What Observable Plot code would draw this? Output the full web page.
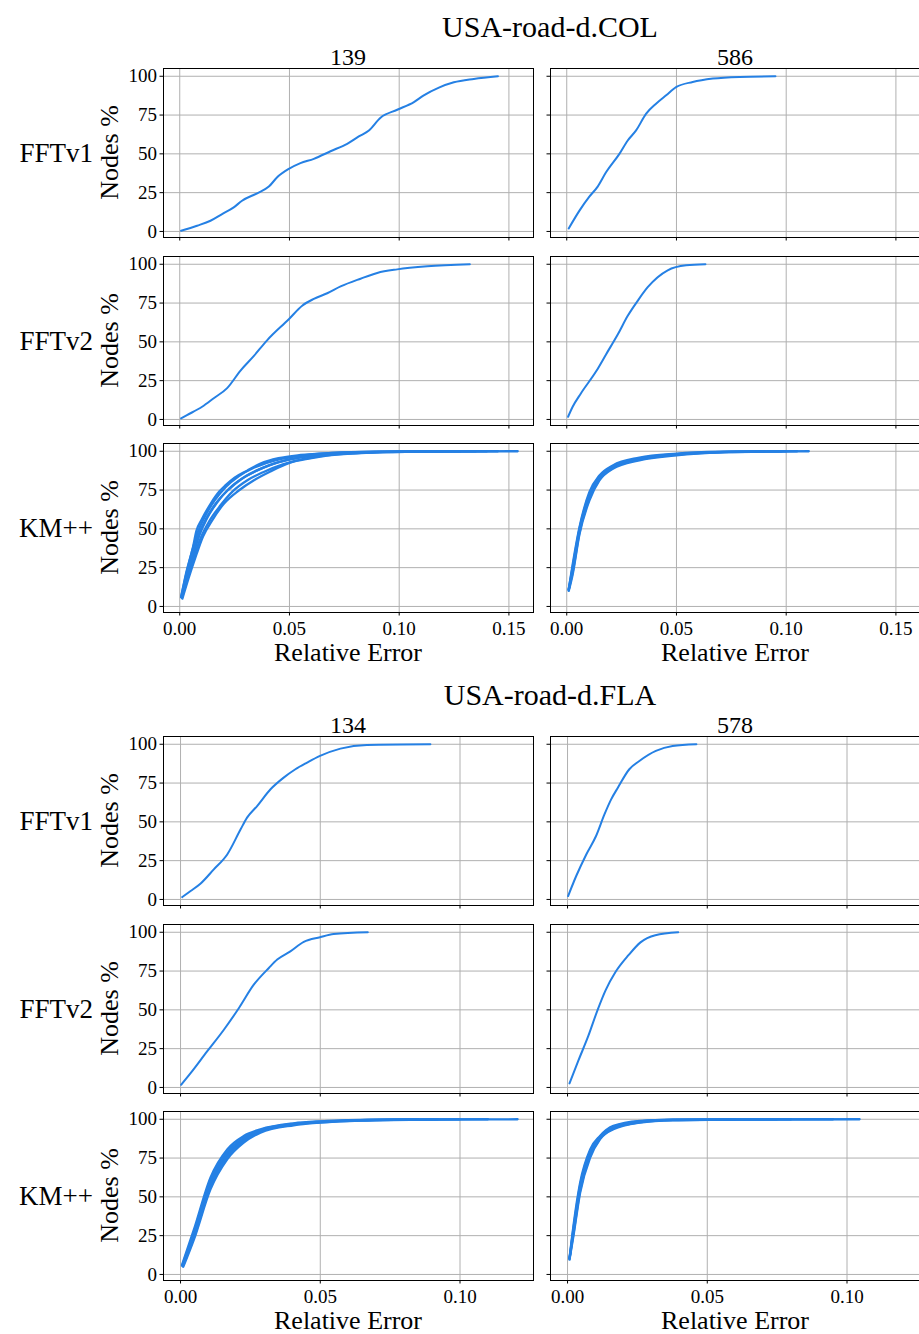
<!DOCTYPE html>
<html>
<head>
<meta charset="utf-8">
<script src="https://cdn.jsdelivr.net/npm/d3@7"></script>
<script src="https://cdn.jsdelivr.net/npm/@observablehq/plot@0.6"></script>
<style>
  html, body { margin: 0; padding: 0; background: #fff; overflow: hidden; }
  #root { position: relative; width: 919px; height: 1334px; overflow: hidden; background: #fff; }
  #root > svg.panel { position: absolute; }
  #overlay { position: absolute; left: 0; top: 0; pointer-events: none; }
  #overlay text { font-family: "Liberation Serif", "DejaVu Serif", serif; fill: #000; }
</style>
</head>
<body>
<div id="root"></div>
<script>
// ---------------- data ----------------
const groupTitles = ["USA-road-d.COL", "USA-road-d.FLA"];
const colLabelsCOL = ["139", "586"];
const colLabelsFLA = ["134", "578"];
const methods = ["FFTv1", "FFTv2", "KM++"];
const yTicks = [0, 25, 50, 75, 100];
const xTicksCOL = [0, 0.05, 0.10, 0.15];
const xTicksFLA = [0, 0.05, 0.10];

// [relative error, nodes %]
const COL_139_FFTv1 = [[0.0006,0.4],[0.0079,3.7],[0.014,6.9],[0.0193,11.2],[0.0246,15.5],[0.0284,19.8],[0.0353,24.6],[0.0406,28.9],[0.0444,34.9],[0.0497,40.3],[0.055,44],[0.0611,46.8],[0.0687,51.7],[0.0763,56.5],[0.0816,61.2],[0.0862,65.1],[0.0915,73.3],[0.0991,78.4],[0.1067,83.4],[0.1112,87.7],[0.1181,92.7],[0.1249,96.1],[0.134,98.3],[0.145,100]];
const COL_586_FFTv1 = [[0.0009,1.9],[0.0058,13.4],[0.0103,22.4],[0.0141,28.9],[0.0179,38.1],[0.024,50],[0.0278,58.6],[0.0316,65.1],[0.0362,75.9],[0.0407,82.3],[0.0453,87.7],[0.05,93.1],[0.0574,96.3],[0.0666,98.5],[0.0787,99.6],[0.0951,100]];
const COL_139_FFTv2 = [[0.0006,0.7],[0.0033,2.8],[0.0102,8.2],[0.0155,13.7],[0.0216,20.2],[0.0277,31.5],[0.0337,40.8],[0.0398,51],[0.0497,64.6],[0.0558,73.3],[0.0611,77.7],[0.0672,81.3],[0.0733,85.7],[0.0824,90.7],[0.09,94.4],[0.0991,96.7],[0.1128,98.7],[0.1322,100]];
const COL_586_FFTv2 = [[0.0006,1.7],[0.0027,8.2],[0.0065,16.9],[0.0134,31],[0.0179,41.9],[0.0233,54.9],[0.0278,66.8],[0.0324,76.6],[0.0369,85.2],[0.046,96.1],[0.0544,99.3],[0.0632,100]];

const COL_139_KM_r1 = [[0.0006,6],[0.003,22],[0.006,38],[0.0076,48.7],[0.010,56],[0.014,66],[0.018,74],[0.0208,78],[0.025,83],[0.0307,87.5],[0.0368,92],[0.045,95.5],[0.055,97.6],[0.07,99],[0.09,99.7],[0.12,100]];
const COL_139_KM_r2 = [[0.0012,5],[0.004,18],[0.0075,33],[0.0106,45],[0.015,56],[0.02,66],[0.0269,74.7],[0.034,81.5],[0.0413,87],[0.05,92.5],[0.06,95.5],[0.067,97.2],[0.08,98.7],[0.0976,99.5],[0.12,99.9],[0.154,100]];
const COL_139_KM_r3 = [[0.0008,6],[0.0035,20],[0.0065,35],[0.009,46],[0.0125,57],[0.017,67],[0.0225,76],[0.029,83],[0.0365,88.5],[0.045,93],[0.055,96],[0.068,98.2],[0.085,99.3],[0.105,99.8],[0.135,100]];
const COL_139_KM_r4 = [[0.001,5.5],[0.0038,19],[0.007,34],[0.0095,44],[0.0135,55],[0.0185,65],[0.024,74],[0.031,81.5],[0.038,86.5],[0.047,91.5],[0.057,95.2],[0.07,97.8],[0.088,99.2],[0.11,99.8],[0.145,100]];
const COL_139_KM_r5 = [[0.0007,6.5],[0.003,21],[0.0055,35],[0.008,47],[0.0115,58],[0.016,68.5],[0.021,77],[0.027,84],[0.034,89.5],[0.042,93.5],[0.052,96.5],[0.064,98.4],[0.08,99.4],[0.1,99.9],[0.128,100]];
const COL_139_KM_r6 = [[0.0009,5.8],[0.0032,20.5],[0.0062,36],[0.0085,46],[0.012,56.5],[0.0165,66.5],[0.022,75],[0.028,82],[0.035,87.5],[0.043,92],[0.053,95.6],[0.066,98],[0.083,99.3],[0.102,99.8],[0.14,100]];

const COL_586_KM_r1 = [[0.0009,11],[0.0027,27],[0.0058,51],[0.0103,73.6],[0.0149,84.4],[0.021,90.9],[0.0331,95.9],[0.05,98.5],[0.07,99.7],[0.09,100]];
const COL_586_KM_r2 = [[0.0009,10],[0.0027,20.6],[0.0058,46.5],[0.0103,68.2],[0.0149,81.2],[0.021,88.7],[0.0331,94.2],[0.05,97.4],[0.0711,99.3],[0.09,99.8],[0.1103,100]];
const COL_586_KM_r3 = [[0.0009,10.5],[0.0027,24],[0.0058,49],[0.0103,71],[0.0149,83],[0.021,89.8],[0.0331,95],[0.05,98],[0.07,99.5],[0.1,100]];
const COL_586_KM_r4 = [[0.0009,10.8],[0.0027,22],[0.0058,47.5],[0.0103,69.5],[0.0149,82],[0.021,89.2],[0.0331,94.6],[0.05,97.7],[0.072,99.4],[0.105,100]];
const COL_586_KM_r5 = [[0.0009,11.2],[0.0027,25.5],[0.0058,50],[0.0103,72.3],[0.0149,83.7],[0.021,90.3],[0.0331,95.4],[0.05,98.2],[0.075,99.7],[0.098,100]];

const FLA_134_FFTv1 = [[0.0006,1.5],[0.0036,5.4],[0.0072,10.3],[0.0119,19.4],[0.0167,29],[0.0215,45.2],[0.0238,52.7],[0.0274,60.2],[0.0322,71],[0.0369,78.5],[0.0411,83.9],[0.0453,88.2],[0.0499,92.5],[0.0572,97.2],[0.0667,99.6],[0.0894,100]];
const FLA_578_FFTv1 = [[0.0002,2.2],[0.0031,15.1],[0.0067,29],[0.0102,40.9],[0.0132,54.8],[0.0156,64.5],[0.018,72],[0.0221,83.9],[0.0257,89.2],[0.0316,95.7],[0.0376,98.9],[0.0461,100]];
const FLA_134_FFTv2 = [[0.0002,1.7],[0.0036,9.2],[0.0095,23.2],[0.0155,37.2],[0.0209,51.2],[0.0262,66.2],[0.0316,77],[0.0346,82.4],[0.0393,87.7],[0.0441,93.8],[0.0499,96.8],[0.0548,98.9],[0.067,100]];
const FLA_578_FFTv2 = [[0.0007,2.6],[0.0039,17.4],[0.0075,33.5],[0.0107,49.7],[0.0136,62.6],[0.0171,74.2],[0.0218,85.2],[0.0261,93.5],[0.0314,98.1],[0.0396,100]];

const FLA_134_KM_r1 = [[0.0005,6],[0.0048,29],[0.0107,62.4],[0.0167,80.6],[0.0226,89.2],[0.0286,93.5],[0.0405,97.4],[0.05,98.7],[0.0644,99.6],[0.085,100]];
const FLA_134_KM_r2 = [[0.001,5],[0.0048,22.6],[0.0107,54.8],[0.0167,74.2],[0.0226,84.9],[0.0286,91.4],[0.0405,96.1],[0.05,97.8],[0.0644,99.1],[0.09,99.8],[0.1206,100]];
const FLA_134_KM_r3 = [[0.0007,5.5],[0.0048,26],[0.0107,58.5],[0.0167,77.5],[0.0226,87],[0.0286,92.5],[0.0405,96.8],[0.05,98.3],[0.0644,99.4],[0.1,100]];
const FLA_134_KM_r4 = [[0.0008,5.2],[0.0048,24],[0.0107,56.5],[0.0167,76],[0.0226,86],[0.0286,92],[0.0405,96.5],[0.05,98],[0.0644,99.2],[0.095,99.9],[0.11,100]];
const FLA_134_KM_r5 = [[0.0006,5.8],[0.0048,27.5],[0.0107,60.5],[0.0167,79],[0.0226,88],[0.0286,93],[0.0405,97.1],[0.05,98.5],[0.0644,99.5],[0.092,100]];

const FLA_578_KM_r1 = [[0.0007,10.5],[0.0021,31.2],[0.0045,59.1],[0.0081,80.6],[0.0116,89.2],[0.0164,95.7],[0.0259,98.9],[0.0377,99.8],[0.06,100]];
const FLA_578_KM_r2 = [[0.0007,9.5],[0.0021,24.7],[0.0045,52.7],[0.0081,75.3],[0.0116,87.1],[0.0164,93.5],[0.0259,97.8],[0.0377,99.3],[0.06,99.8],[0.1045,100]];
const FLA_578_KM_r3 = [[0.0007,10],[0.0021,28],[0.0045,56],[0.0081,78],[0.0116,88.2],[0.0164,94.6],[0.0259,98.4],[0.0377,99.6],[0.08,100]];
const FLA_578_KM_r4 = [[0.0007,10.2],[0.0021,26],[0.0045,54],[0.0081,76.5],[0.0116,87.6],[0.0164,94],[0.0259,98],[0.0377,99.4],[0.07,99.9],[0.095,100]];
const FLA_578_KM_r5 = [[0.0007,10.3],[0.0021,29.5],[0.0045,57.5],[0.0081,79.3],[0.0116,88.7],[0.0164,95.1],[0.0259,98.6],[0.0377,99.7],[0.075,100]];

// ---------------- layout ----------------
const BLUE = "#2580e4";
const FONT = "'Liberation Serif', 'DejaVu Serif', serif";
const colLeft = [163, 550];
const panelW = 370, panelH = 169;
const groupOffset = [0, 668];
const rowTops = [68, 256, 443];
const yDomain = [-3.9, 105];
const xDomains = [[-0.0074, 0.1612], [-0.0061, 0.1263]];
const xTickSets = [xTicksCOL, xTicksFLA];
const colLabelSets = [colLabelsCOL, colLabelsFLA];

const panelSeries = [
  [ // COL
    [[COL_139_FFTv1], [COL_586_FFTv1]],
    [[COL_139_FFTv2], [COL_586_FFTv2]],
    [[COL_139_KM_r1, COL_139_KM_r2, COL_139_KM_r3, COL_139_KM_r4, COL_139_KM_r5, COL_139_KM_r6],
     [COL_586_KM_r1, COL_586_KM_r2, COL_586_KM_r3, COL_586_KM_r4, COL_586_KM_r5]]
  ],
  [ // FLA
    [[FLA_134_FFTv1], [FLA_578_FFTv1]],
    [[FLA_134_FFTv2], [FLA_578_FFTv2]],
    [[FLA_134_KM_r1, FLA_134_KM_r2, FLA_134_KM_r3, FLA_134_KM_r4, FLA_134_KM_r5],
     [FLA_578_KM_r1, FLA_578_KM_r2, FLA_578_KM_r3, FLA_578_KM_r4, FLA_578_KM_r5]]
  ]
];

const root = document.getElementById("root");
const mL = 50, mR = 2, mT = 2, mB = 32;
const fmt2 = d3.format(".2f");
const blank = () => "";

for (let g = 0; g < 2; g++) {
  for (let r = 0; r < 3; r++) {
    for (let c = 0; c < 2; c++) {
      const runs = panelSeries[g][r][c];
      const rows = [];
      runs.forEach((run, i) => run.forEach(([x, y]) => rows.push({x, y, run: i})));
      const isKM = r === 2;
      const xt = xTickSets[g];
      const svg = Plot.plot({
        width: panelW + mL + mR,
        height: panelH + mT + mB,
        marginLeft: mL, marginRight: mR, marginTop: mT, marginBottom: mB,
        x: {domain: xDomains[g], axis: null},
        y: {domain: yDomain, axis: null},
        style: {fontFamily: FONT, fontSize: "19px", color: "#000", background: "transparent", overflow: "visible"},
        marks: [
          Plot.gridX(xt, {stroke: "#b0b0b0", strokeOpacity: 1, strokeWidth: 1}),
          Plot.gridY(yTicks, {stroke: "#b0b0b0", strokeOpacity: 1, strokeWidth: 1}),
          Plot.line(rows, {x: "x", y: "y", z: "run", stroke: BLUE, curve: "monotone-x",
            strokeWidth: isKM ? 2.3 : 2, strokeLinejoin: "round"}),
          Plot.frame({stroke: "#000", strokeWidth: 1}),
          Plot.axisX(xt, {anchor: "bottom", label: null, tickSize: 3.5, tickPadding: 5,
            tickFormat: r === 2 ? fmt2 : blank, fontSize: 19}),
          Plot.axisY(yTicks, {anchor: "left", label: null, tickSize: 3.5, tickPadding: 3,
            tickFormat: c === 0 ? d3.format("d") : blank, fontSize: 19})
        ]
      });
      svg.classList.add("panel");
      svg.style.left = (colLeft[c] - mL) + "px";
      svg.style.top = (rowTops[r] + groupOffset[g] - mT) + "px";
      root.appendChild(svg);
    }
  }
}

// ---------------- text overlay ----------------
const ns = "http://www.w3.org/2000/svg";
const ov = document.createElementNS(ns, "svg");
ov.setAttribute("id", "overlay");
ov.setAttribute("width", 919);
ov.setAttribute("height", 1334);
root.appendChild(ov);
function addText(str, x, y, size, anchor, rotate) {
  const t = document.createElementNS(ns, "text");
  t.textContent = str;
  t.setAttribute("x", x);
  t.setAttribute("y", y);
  t.setAttribute("font-size", size);
  t.setAttribute("text-anchor", anchor || "middle");
  if (rotate) t.setAttribute("transform", `rotate(${rotate} ${x} ${y})`);
  ov.appendChild(t);
}
for (let g = 0; g < 2; g++) {
  const off = groupOffset[g];
  addText(groupTitles[g], 550, 37 + off, 30);
  for (let c = 0; c < 2; c++) {
    const cx = colLeft[c] + panelW / 2;
    addText(colLabelSets[g][c], cx, 65 + off, 24);
    addText("Relative Error", cx, 661 + off, 26);
  }
  for (let r = 0; r < 3; r++) {
    const cy = rowTops[r] + off + panelH / 2;
    addText(methods[r], 93, cy + 9, 27, "end");
    addText("Nodes %", 118, cy, 26, "middle", -90);
  }
}
</script>
</body>
</html>
